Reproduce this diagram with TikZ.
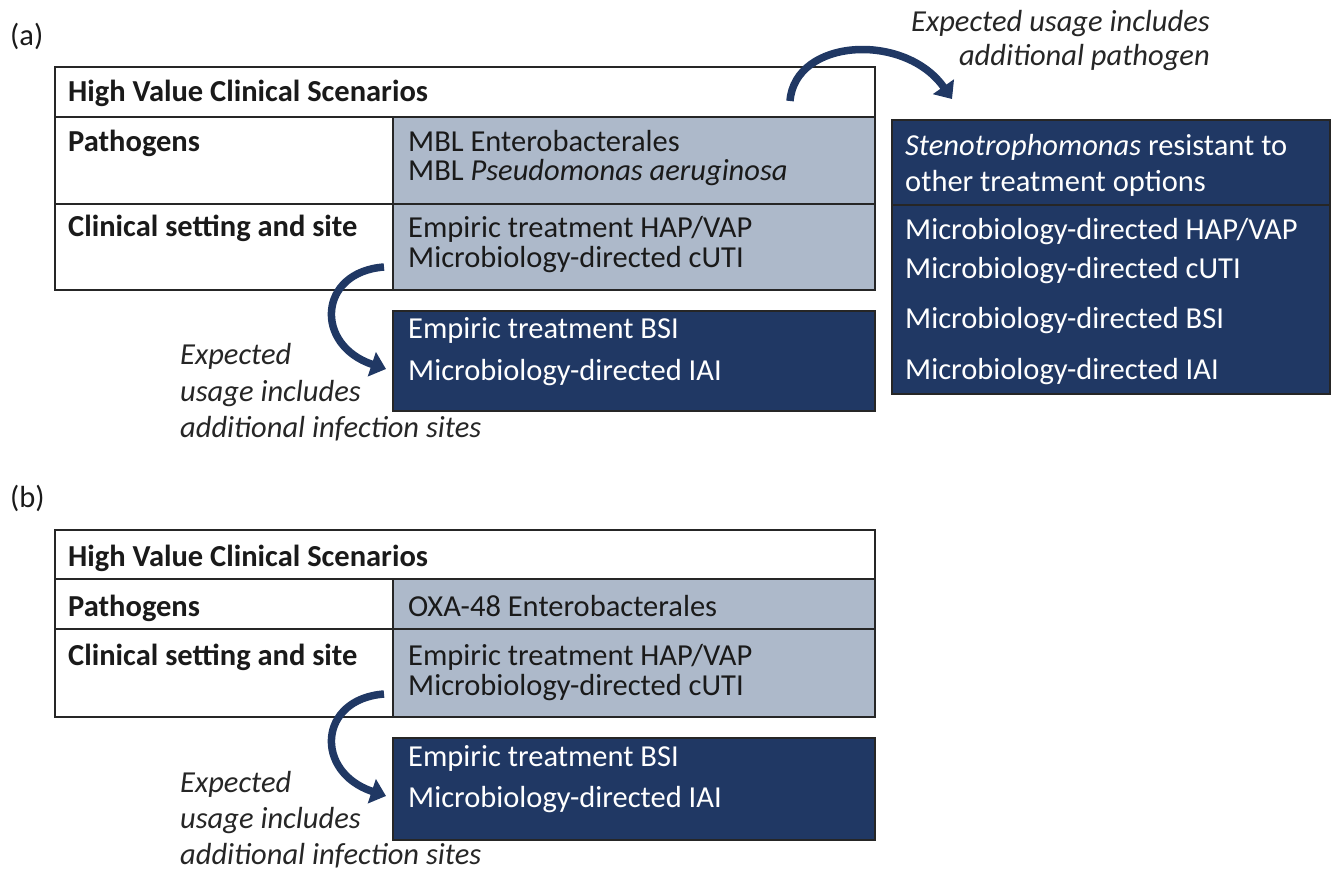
\documentclass[tikz,border=0pt]{standalone}
\usepackage{fontspec}
\setmainfont{Carlito}
\usetikzlibrary{arrows.meta}
\definecolor{navy}{HTML}{203864}
\definecolor{graycell}{HTML}{ADB9CA}
\definecolor{ink}{HTML}{1A1A1A}
\begin{document}
\begin{tikzpicture}[x=1pt,y=-1pt,
  cellbox/.style={draw=black!85, line width=1.3pt, anchor=north west, inner sep=0pt, outer sep=0pt},
  whitecell/.style={cellbox, fill=white},
  graybox/.style={cellbox, fill=graycell},
  darkbox/.style={cellbox, fill=navy},
  txt/.style={anchor=base west, inner sep=0pt, font=\fontsize{30.5}{34}\selectfont, text=ink},
  wtxt/.style={txt, text=white},
  btxt/.style={txt, font=\fontsize{30.5}{34}\selectfont\bfseries},
  itxt/.style={txt, font=\fontsize{30.5}{34}\selectfont\itshape, text=black!85},
  bigarrow/.style={draw=navy, line width=7.5pt, -{Triangle[length=15pt,width=25pt,fill=navy]}},
]
\useasboundingbox (0,0) rectangle (1338,874);

% ---------------- panel (a)
\node[txt] (a-lbl) at (10,46) {(a)};
\node[whitecell, minimum width=820pt, minimum height=50pt] (a-hdr) at (55,67) {};
\node[whitecell, minimum width=338pt, minimum height=87pt] (a-path) at (55,117) {};
\node[graybox, minimum width=482pt, minimum height=87pt] (a-pathv) at (393,117) {};
\node[whitecell, minimum width=338pt, minimum height=86pt] (a-set) at (55,204) {};
\node[graybox, minimum width=482pt, minimum height=86pt] (a-setv) at (393,204) {};
\node[darkbox, minimum width=482pt, minimum height=100pt] (a-new) at (393,311) {};
\node[darkbox, minimum width=438pt, minimum height=274pt] (a-steno) at (892,120) {};
\draw[black!85, line width=1.3pt] (892,205) -- (1330,205);

\node[btxt] (a-t1) at (68,102) {High Value Clinical Scenarios};
\node[btxt] (a-t2) at (68,152) {Pathogens};
\node[btxt] (a-t3) at (68,237) {Clinical setting and site};
\node[txt] (a-g1) at (408,152) {MBL Enterobacterales};
\node[txt] (a-g2) at (408,181) {MBL \textit{Pseudomonas aeruginosa}};
\node[txt] (a-g3) at (408,238) {Empiric treatment HAP/VAP};
\node[txt] (a-g4) at (408,268) {Microbiology-directed cUTI};
\node[wtxt] (a-d1) at (408,339) {Empiric treatment BSI};
\node[wtxt] (a-d2) at (408,380) {Microbiology-directed IAI};
\node[wtxt] (a-s1) at (905,156) {\textit{Stenotrophomonas} resistant to};
\node[wtxt] (a-s2) at (905,192) {other treatment options};
\node[wtxt] (a-s3) at (905,240) {Microbiology-directed HAP/VAP};
\node[wtxt] (a-s4) at (905,279) {Microbiology-directed cUTI};
\node[wtxt] (a-s5) at (905,329) {Microbiology-directed BSI};
\node[wtxt] (a-s6) at (905,379) {Microbiology-directed IAI};

\node[itxt, anchor=base east] (a-e1) at (1210,32) {Expected usage includes};
\node[itxt, anchor=base east] (a-e2) at (1210,66) {additional pathogen};
\node[itxt] (a-f1) at (180,365) {Expected};
\node[itxt] (a-f2) at (180,401) {usage includes};
\node[itxt] (a-f3) at (180,437) {additional infection sites};

\coordinate (a-top-s) at (790,101);
\coordinate (a-top-e) at (952,99);
\draw[bigarrow] (a-top-s) .. controls (795,38) and (905,32) .. (a-top-e);
\coordinate (a-side-s) at (384,267);
\coordinate (a-side-e) at (386,369);
\draw[bigarrow] (a-side-s) .. controls (318,272) and (314,345) .. (a-side-e);

% ---------------- panel (b)
\node[txt] (b-lbl) at (10,507) {(b)};
\node[whitecell, minimum width=820pt, minimum height=49pt] (b-hdr) at (55,530) {};
\node[whitecell, minimum width=338pt, minimum height=50pt] (b-path) at (55,579) {};
\node[graybox, minimum width=482pt, minimum height=50pt] (b-pathv) at (393,579) {};
\node[whitecell, minimum width=338pt, minimum height=88pt] (b-set) at (55,629) {};
\node[graybox, minimum width=482pt, minimum height=88pt] (b-setv) at (393,629) {};
\node[darkbox, minimum width=482pt, minimum height=102pt] (b-new) at (393,738) {};

\node[btxt] (b-t1) at (68,566) {High Value Clinical Scenarios};
\node[btxt] (b-t2) at (68,616) {Pathogens};
\node[btxt] (b-t3) at (68,665) {Clinical setting and site};
\node[txt] (b-g1) at (408,616) {OXA-48 Enterobacterales};
\node[txt] (b-g3) at (408,665) {Empiric treatment HAP/VAP};
\node[txt] (b-g4) at (408,695) {Microbiology-directed cUTI};
\node[wtxt] (b-d1) at (408,766) {Empiric treatment BSI};
\node[wtxt] (b-d2) at (408,807) {Microbiology-directed IAI};

\node[itxt] (b-f1) at (180,792) {Expected};
\node[itxt] (b-f2) at (180,828) {usage includes};
\node[itxt] (b-f3) at (180,864) {additional infection sites};

\coordinate (b-side-s) at (384,694);
\coordinate (b-side-e) at (386,796);
\draw[bigarrow] (b-side-s) .. controls (318,699) and (314,772) .. (b-side-e);
\end{tikzpicture}
\end{document}
